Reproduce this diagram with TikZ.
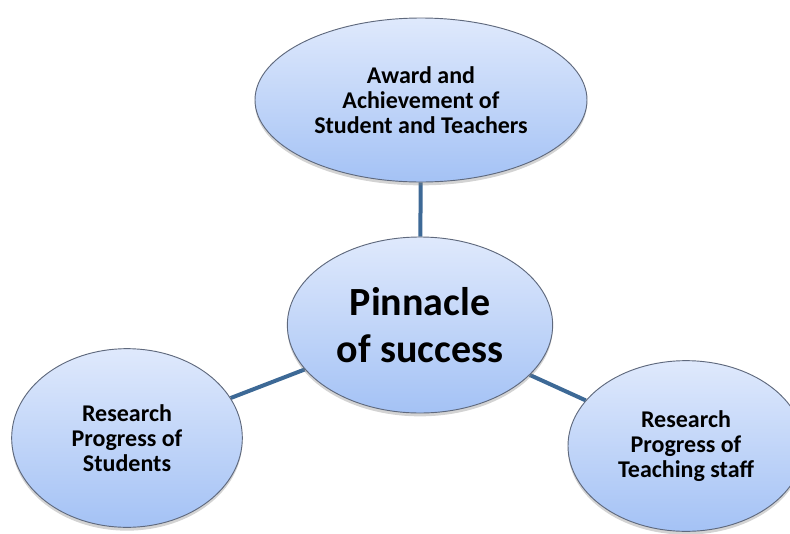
\documentclass[tikz,border=0pt]{standalone}
\usepackage{fontspec}
\setmainfont{Carlito}
\usetikzlibrary{positioning, shapes.geometric, shadows, backgrounds}

\definecolor{bubbletop}{RGB}{223,233,252}
\definecolor{bubblebot}{RGB}{164,194,245}
\definecolor{bubbleedge}{RGB}{95,105,125}
\definecolor{spoke}{RGB}{61,105,150}

\begin{document}
\begin{tikzpicture}[x=0.75pt, y=-0.75pt,
        bubble/.style={draw=bubbleedge, line width=0.7pt, ellipse, inner sep=0pt,
            top color=bubbletop, bottom color=bubblebot, align=center,
            font=\bfseries\fontsize{18}{19}\selectfont,
            drop shadow={shadow xshift=0pt, shadow yshift=-2.5pt, opacity=0.35}},
        spoke_line/.style={draw=spoke, line width=3pt}]

        \useasboundingbox (0,0) rectangle (790,533);

        % Hub and the three surrounding bubbles
        \node[bubble, minimum width=199pt, minimum height=132pt,
            font=\bfseries\fontsize{30}{35}\selectfont] (hub) at (420,325) {Pinnacle\\of success};
        \node[bubble, minimum width=249pt, minimum height=123pt] (award) at (421,100)
            {Award and\\Achievement of\\Student and Teachers};
        \node[bubble, minimum width=173pt, minimum height=134pt] (stud) at (127,438)
            {Research\\Progress of\\Students};
        \node[bubble, minimum width=177pt, minimum height=128pt] (staff) at (686,446)
            {Research\\Progress of\\Teaching staff};

        % Spokes behind the bubbles
        \begin{scope}[on background layer]
            \draw[spoke_line] (hub) -- (award);
            \draw[spoke_line] (hub) -- (stud);
            \draw[spoke_line] (hub) -- (staff);
        \end{scope}
    \end{tikzpicture}
\end{document}
